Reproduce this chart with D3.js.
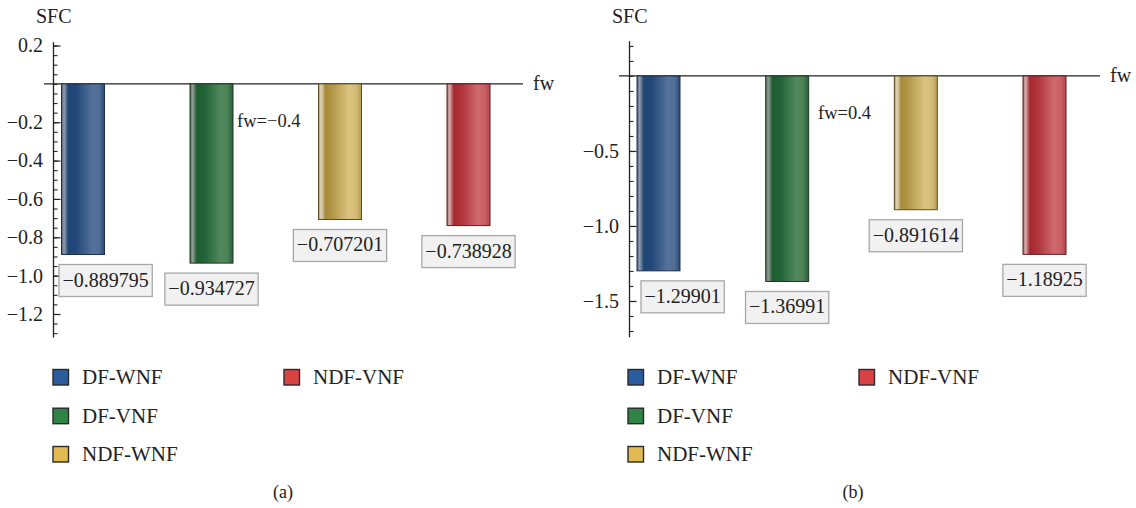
<!DOCTYPE html>
<html><head><meta charset="utf-8">
<script src="https://cdn.jsdelivr.net/npm/d3@7"></script>
<style>
html,body{margin:0;padding:0;background:#fff;}
svg{display:block;}
text{font-family:"Liberation Serif","DejaVu Serif",serif;fill:#222;}
</style></head>
<body>
<svg id="chart" width="1136" height="508"></svg>
<script>
// ---- data ----
const categories = ["DF-WNF", "DF-VNF", "NDF-WNF", "NDF-VNF"];
const valuesA = [-0.889795, -0.934727, -0.707201, -0.738928];
const valuesB = [-1.29901, -1.36991, -0.891614, -1.18925];
const labelsA = ["−0.889795", "−0.934727", "−0.707201", "−0.738928"];
const labelsB = ["−1.29901", "−1.36991", "−0.891614", "−1.18925"];
const majorTicksA = [0.2, -0.2, -0.4, -0.6, -0.8, -1.0, -1.2];
const majorTicksB = [-0.5, -1.0, -1.5];
const annotationA = "fw=−0.4";
const annotationB = "fw=0.4";
const captions = ["(a)", "(b)"];
const yTitle = "SFC";
const xTitle = "fw";

// ---- styles ----
const colors = {
  "DF-WNF":  {swatch:"#2b5c9f", edge:"#1a3050", stops:["#4b5b72","#939cab","#1d4575","#23497a","#55729a","#4f6d95","#2b4a74"]},
  "DF-VNF":  {swatch:"#2f8345", edge:"#1b3d22", stops:["#55685a","#919f94","#1d5d2e","#23643a","#51895c","#4a8156","#2b5b36"]},
  "NDF-WNF": {swatch:"#e1bb52", edge:"#5e4d20", stops:["#a69260","#e2d9bd","#a68a3a","#b59a4c","#dcc581","#d4bb74","#b59b55"]},
  "NDF-VNF": {swatch:"#db4343", edge:"#5e2022", stops:["#a86466","#d3b0b1","#a4272e","#b0363c","#cf6a6e","#c95f63","#b04549"]}
};
const stopOffsets = [0, 0.06, 0.16, 0.35, 0.72, 0.88, 1];

const svg = d3.select("#chart");
const defs = svg.append("defs");
categories.forEach((c, i) => {
  const g = defs.append("linearGradient").attr("id", "grad" + i)
    .attr("x1", 0).attr("x2", 1).attr("y1", 0).attr("y2", 0);
  colors[c].stops.forEach((s, k) => g.append("stop").attr("offset", stopOffsets[k]).attr("stop-color", s));
});

const panels = [
  {values: valuesA, labels: labelsA, ticks: majorTicksA, minorStep: 0.05, fmt: d3.format(".1f"),
   axisX: 53, yDomain: [-1.32, 0.22], yRange: [337, 41.7], xRange: [83, 468.5],
   lineX: [44, 523], labelMinX: 59, note: annotationA, noteX: 237, noteY: 127,
   legendX: 53, legendX2: 284, caption: captions[0], captionX: 283},
  {values: valuesB, labels: labelsB, ticks: majorTicksB, minorStep: 0.1, fmt: d3.format(".1f"),
   axisX: 629, yDomain: [-1.738, 0.235], yRange: [336.7, 40.7], xRange: [658.5, 1044.5],
   lineX: [619, 1100], labelMinX: 641, note: annotationB, noteX: 818, noteY: 119,
   legendX: 628, legendX2: 859, caption: captions[1], captionX: 853}
];

panels.forEach(p => {
  const g = svg.append("g");
  const y = d3.scaleLinear().domain(p.yDomain).range(p.yRange);
  const x = d3.scalePoint().domain(categories).range(p.xRange);
  const barW = 43;
  const y0 = y(0);

  // minor ticks
  const minor = d3.range(Math.ceil(p.yDomain[0] / p.minorStep), Math.floor(p.yDomain[1] / p.minorStep) + 1)
    .map(k => +(k * p.minorStep).toFixed(4));
  g.append("g").attr("transform", `translate(${p.axisX},0)`)
    .call(d3.axisLeft(y).tickValues(minor).tickSize(-4.5).tickSizeOuter(0).tickFormat(""))
    .call(s => s.select(".domain").attr("stroke", "#222").attr("stroke-width", 1.3))
    .call(s => s.selectAll(".tick text").remove())
    .call(s => s.selectAll(".tick line").attr("stroke", "#222").attr("stroke-width", 1.1));
  // major ticks
  g.append("g").attr("transform", `translate(${p.axisX},0)`)
    .call(d3.axisLeft(y).tickValues(p.ticks).tickSize(-7.5).tickSizeOuter(0).tickPadding(10).tickFormat(p.fmt))
    .call(s => s.select(".domain").remove())
    .call(s => s.selectAll(".tick line").attr("stroke", "#222").attr("stroke-width", 1.2))
    .call(s => s.selectAll(".tick text").attr("fill", "#222").style("font-family", '"Liberation Serif",serif').style("font-size", "20px"));

  // zero line
  g.append("line").attr("x1", p.lineX[0]).attr("x2", p.lineX[1]).attr("y1", y0).attr("y2", y0)
    .attr("stroke", "#222").attr("stroke-width", 1.2);
  g.append("text").attr("x", p.lineX[1] + 10).attr("y", y0 + 6).style("font-size", "20px").text(xTitle);
  g.append("text").attr("x", p.axisX - 17).attr("y", 23).style("font-size", "20px").text(yTitle);

  // bars
  g.selectAll("rect.bar").data(categories).join("rect").attr("class", "bar")
    .attr("x", c => x(c) - barW / 2).attr("width", barW)
    .attr("y", y0).attr("height", (c, i) => y(p.values[i]) - y0)
    .attr("fill", (c, i) => `url(#grad${i})`)
    .attr("stroke", c => colors[c].edge).attr("stroke-width", 1);

  // value labels
  categories.forEach((c, i) => {
    const lg = g.append("g");
    const box = lg.append("rect");
    const t = lg.append("text").style("font-size", "20px").text(p.labels[i]);
    const w = t.node().getComputedTextLength();
    let bx = x(c) - (w + 7) / 2;
    if (i === 0) bx = Math.max(bx, p.labelMinX);
    const by = y(p.values[i]) + 10;
    box.attr("x", bx).attr("y", by).attr("width", w + 7).attr("height", 32)
      .attr("fill", "#f1f1f1").attr("stroke", "#a8a8a8").attr("stroke-width", 1.3);
    t.attr("x", bx + 3.5).attr("y", by + 22);
  });

  // annotation
  g.append("text").attr("x", p.noteX).attr("y", p.noteY).style("font-size", "18.5px").text(p.note);

  // legend
  const rows = [377, 415.7, 454];
  const pos = [[p.legendX, rows[0]], [p.legendX, rows[1]], [p.legendX, rows[2]], [p.legendX2, rows[0]]];
  categories.forEach((c, i) => {
    const [lx, ly] = pos[i];
    g.append("rect").attr("x", lx).attr("y", ly - 7.5).attr("width", 15.5).attr("height", 15.5)
      .attr("fill", colors[c].swatch).attr("stroke", "#2a2a2a").attr("stroke-width", 1.4);
    g.append("text").attr("x", lx + 29).attr("y", ly + 7).style("font-size", "21px").text(c);
  });

  // caption
  g.append("text").attr("x", p.captionX).attr("y", 498).attr("text-anchor", "middle")
    .style("font-size", "18px").text(p.caption);
});
</script>
</body></html>
